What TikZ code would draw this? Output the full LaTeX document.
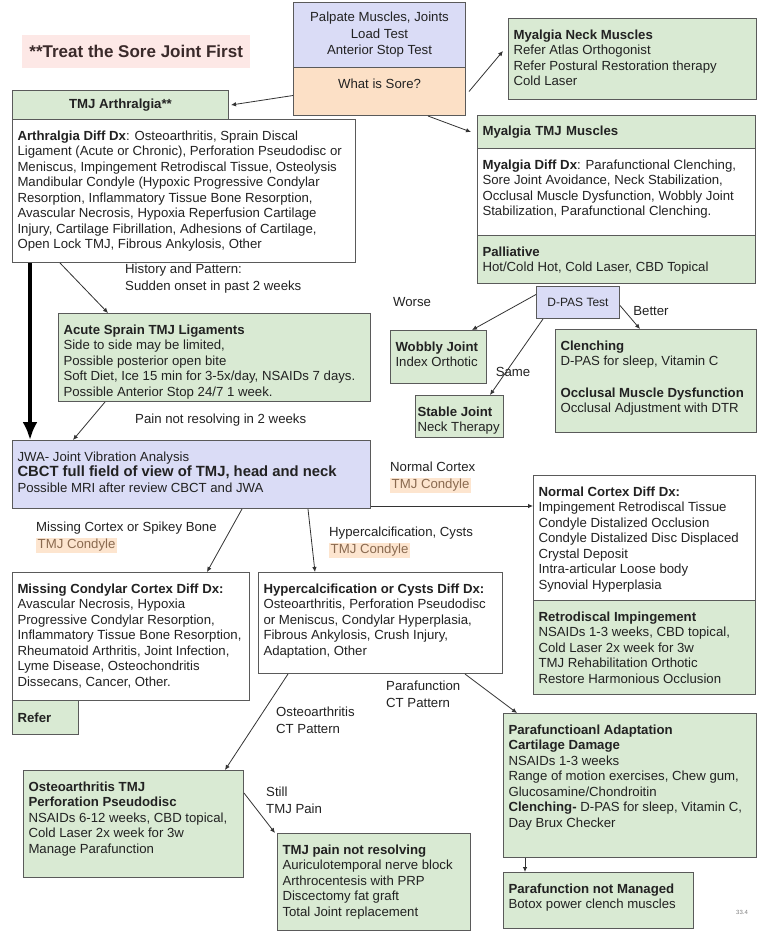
\documentclass[tikz,border=0pt]{standalone}
\usepackage{fontspec}
\setmainfont{Liberation Sans}
\usetikzlibrary{arrows.meta}

\definecolor{greenc}{HTML}{D9EAD3}
\definecolor{bluec}{HTML}{DADCF6}
\definecolor{orangec}{HTML}{FCE0C6}
\definecolor{pinkc}{HTML}{FDE8E6}
\definecolor{condbg}{HTML}{FDE5CF}
\definecolor{edgec}{HTML}{5A5A5A}
\definecolor{arrowc}{HTML}{333333}
\definecolor{textc}{HTML}{222222}
\definecolor{treatc}{HTML}{3A2A2A}
\definecolor{condc}{HTML}{8A6A50}

\newcommand{\boxfont}{\fontsize{13.2}{15.5}\selectfont}
\newcommand{\lblfont}{\fontsize{13.2}{17}\selectfont}
% text block filling a box of outer size #1 x #2, set from the top
\newcommand{\boxtxt}[3]{\parbox[t][\dimexpr#2-20pt\relax][t]{\dimexpr#1-10pt\relax}{\raggedright\strut#3}}
\newcommand{\condyle}{{\setlength{\fboxsep}{1.5pt}\colorbox{condbg}{\color{condc}TMJ Condyle}}}

\begin{document}
\begin{tikzpicture}[
  x=1pt, y=-1pt,
  box/.style={draw=edgec, line width=1pt, anchor=north west,
    inner xsep=5pt, inner ysep=10pt, font=\boxfont, text=textc},
  gbox/.style={box, fill=greenc},
  wbox/.style={box, fill=white},
  bbox/.style={box, fill=bluec},
  obox/.style={box, fill=orangec},
  lbl/.style={anchor=north west, align=left, font=\lblfont, text=textc, inner sep=0pt},
  line/.style={-{Latex[length=5pt,width=4.5pt]}, line width=0.8pt, draw=arrowc},
  bigline/.style={-{Latex[length=18pt,width=15pt]}, line width=3.5pt, draw=black}
]
\useasboundingbox[fill=white] (0,0) rectangle (761,932);

% Examination
\node[bbox, minimum width=172pt, minimum height=65pt, inner ysep=4pt, align=center,
  font=\fontsize{13.2}{16.5}\selectfont] (exam) at (293,2)
  {Palpate Muscles, Joints\\Load Test\\Anterior Stop Test};
\node[obox] (sore) at (293,67) {\boxtxt{172pt}{48pt}{\centering What is Sore?}};

\node[anchor=north west, fill=pinkc, text=treatc, minimum width=228pt,
  minimum height=33pt, font=\fontsize{17}{19}\selectfont\bfseries] (treat) at (22,35)
  {**Treat the Sore Joint First};

% Joint (arthralgia) side
\node[gbox, minimum width=216pt, minimum height=29pt, inner ysep=2pt, font=\boxfont\bfseries] (arthhead) at (12,90) {TMJ Arthralgia**};
\node[wbox] (arthbody) at (12,119) {\boxtxt{343pt}{143pt}{%
  \textbf{Arthralgia Diff Dx}: Osteoarthritis, Sprain Discal\\
  Ligament (Acute or Chronic), Perforation Pseudodisc or\\
  Meniscus, Impingement Retrodiscal Tissue, Osteolysis\\
  Mandibular Condyle (Hypoxic Progressive Condylar\\
  Resorption, Inflammatory Tissue Bone Resorption,\\
  Avascular Necrosis, Hypoxia Reperfusion Cartilage\\
  Injury, Cartilage Fibrillation, Adhesions of Cartilage,\\
  Open Lock TMJ, Fibrous Ankylosis, Other}};

\node[gbox] (sprain) at (58,313) {\boxtxt{312pt}{88pt}{%
  \textbf{Acute Sprain TMJ Ligaments}\\
  Side to side may be limited,\\
  Possible posterior open bite\\
  Soft Diet, Ice 15 min for 3-5x/day, NSAIDs 7 days.\\
  Possible Anterior Stop 24/7 1 week.}};

% Muscle (myalgia) side
\node[gbox] (neck) at (508,18) {\boxtxt{248pt}{81pt}{%
  \textbf{Myalgia Neck Muscles}\\
  Refer Atlas Orthogonist\\
  Refer Postural Restoration therapy\\
  Cold Laser}};
\node[gbox, text width=268pt, minimum height=33pt, inner ysep=2pt, align=left, font=\boxfont\bfseries] (myahead) at (477,115) {Myalgia TMJ Muscles};
\node[wbox] (myabody) at (477,148) {\boxtxt{278pt}{87pt}{%
  \textbf{Myalgia Diff Dx}: Parafunctional Clenching,\\
  Sore Joint Avoidance, Neck Stabilization,\\
  Occlusal Muscle Dysfunction, Wobbly Joint\\
  Stabilization, Parafunctional Clenching.}};
\node[gbox] (palli) at (477,235) {\boxtxt{278pt}{48pt}{%
  \textbf{Palliative}\\
  Hot/Cold Hot, Cold Laser, CBD Topical}};

\node[bbox, minimum width=83pt, minimum height=32pt, inner ysep=2pt, font=\fontsize{12}{14}\selectfont] (dpas) at (536,286) {D-PAS Test};
\node[gbox] (wobbly) at (390,330) {\boxtxt{96pt}{53pt}{%
  \textbf{Wobbly Joint}\\Index Orthotic}};
\node[gbox, inner xsep=2pt] (stable) at (415,395) {\boxtxt{94pt}{42pt}{%
  \textbf{Stable Joint}\\Neck Therapy}};
\node[gbox] (clench) at (555,329) {\boxtxt{201pt}{103pt}{%
  \textbf{Clenching}\\
  D-PAS for sleep, Vitamin C\\[16pt]
  \textbf{Occlusal Muscle Dysfunction}\\
  Occlusal Adjustment with DTR}};

% Imaging
\node[bbox] (jwa) at (12,440) {\boxtxt{358pt}{68pt}{%
  JWA- Joint Vibration Analysis\\
  {\fontsize{14.8}{16}\selectfont\bfseries CBCT full field of view of TMJ, head and neck}\\
  Possible MRI after review CBCT and JWA}};

\node[wbox] (normal) at (533,475) {\boxtxt{222pt}{125pt}{%
  \textbf{Normal Cortex Diff Dx:}\\
  Impingement Retrodiscal Tissue\\
  Condyle Distalized Occlusion\\
  Condyle Distalized Disc Displaced\\
  Crystal Deposit\\
  Intra-articular Loose body\\
  Synovial Hyperplasia}};
\node[gbox] (retro) at (533,600) {\boxtxt{222pt}{94pt}{%
  \textbf{Retrodiscal Impingement}\\
  NSAIDs 1-3 weeks, CBD topical,\\
  Cold Laser 2x week for 3w\\
  TMJ Rehabilitation Orthotic\\
  Restore Harmonious Occlusion}};

\node[wbox] (missing) at (12,572) {\boxtxt{237pt}{128pt}{%
  \textbf{Missing Condylar Cortex Diff Dx:}\\
  Avascular Necrosis, Hypoxia\\
  Progressive Condylar Resorption,\\
  Inflammatory Tissue Bone Resorption,\\
  Rheumatoid Arthritis, Joint Infection,\\
  Lyme Disease, Osteochondritis\\
  Dissecans, Cancer, Other.}};
\node[gbox, text width=56pt, minimum height=34pt, inner ysep=2pt, align=left, font=\boxfont\bfseries] (refer) at (12,700) {Refer};

\node[wbox] (hyper) at (258,572) {\boxtxt{244pt}{101pt}{%
  \textbf{Hypercalcification or Cysts Diff Dx:}\\
  Osteoarthritis, Perforation Pseudodisc\\
  or Meniscus, Condylar Hyperplasia,\\
  Fibrous Ankylosis, Crush Injury,\\
  Adaptation, Other}};

% Treatment
\node[gbox] (osteo) at (23,770) {\boxtxt{220pt}{107pt}{%
  \textbf{Osteoarthritis TMJ}\\
  \textbf{Perforation Pseudodisc}\\
  NSAIDs 6-12 weeks, CBD topical,\\
  Cold Laser 2x week for 3w\\
  Manage Parafunction}};
\node[gbox] (pain) at (277,833) {\boxtxt{193pt}{97pt}{%
  \textbf{TMJ pain not resolving}\\
  Auriculotemporal nerve block\\
  Arthrocentesis with PRP\\
  Discectomy fat graft\\
  Total Joint replacement}};
\node[gbox] (adapt) at (503,713) {\boxtxt{253pt}{144pt}{%
  \textbf{Parafunctioanl Adaptation}\\
  \textbf{Cartilage Damage}\\
  NSAIDs 1-3 weeks\\
  Range of motion exercises, Chew gum,\\
  Glucosamine/Chondroitin\\
  \textbf{Clenching-} D-PAS for sleep, Vitamin C,\\
  Day Brux Checker}};
\node[gbox] (notman) at (503,872) {\boxtxt{190pt}{56pt}{%
  \textbf{Parafunction not Managed}\\
  Botox power clench muscles}};

% Connector labels
\node[lbl] (histlbl) at (125,264) {History and Pattern:\\Sudden onset in past 2 weeks};
\node[lbl, anchor=west] (resolvelbl) at (135,420) {Pain not resolving in 2 weeks};
\node[lbl, anchor=center] (worselbl) at (412,302) {Worse};
\node[lbl, anchor=center] (betterlbl) at (651,311) {Better};
\node[lbl, anchor=center] (samelbl) at (513,372) {Same};
\node[lbl] (normallbl) at (390,462) {Normal Cortex\\\condyle};
\node[lbl] (missinglbl) at (36,522) {Missing Cortex or Spikey Bone\\\condyle};
\node[lbl] (hyperlbl) at (329,527) {Hypercalcification, Cysts\\\condyle};
\node[lbl] (paralbl) at (386,681) {Parafunction\\CT Pattern};
\node[lbl] (osteolbl) at (276,707) {Osteoarthritis\\CT Pattern};
\node[lbl] (stilllbl) at (266,787) {Still\\TMJ Pain};
\node[lbl, font=\fontsize{6}{7}\selectfont, text=gray] (pagelbl) at (736,910) {33.4};

% Connectors
\draw[line] ([yshift=-4pt]sore.west) -- ([xshift=2pt]arthhead.east);
\draw[line] ([xshift=3pt]sore.east) -- ([xshift=-5pt,yshift=8pt]neck.west);
\draw[line] ([xshift=-38pt]sore.south east) -- ([xshift=-6pt]myahead.west);
\draw[line] ([xshift=48pt]arthbody.south west) -- ([xshift=50pt]sprain.north west);
\draw[line] ([xshift=47pt]sprain.south west) -- ([xshift=61pt]jwa.north west);
\draw[bigline] ([xshift=18pt]arthbody.south west) -- ([xshift=18pt]jwa.north west);

\draw[line] ([yshift=8pt]dpas.west) -- ([xshift=82pt]wobbly.north west);
\draw[line] ([xshift=7pt]dpas.south west) -- ([xshift=75pt]stable.north west);
\draw[line] ([yshift=-3pt]dpas.east) -- ([xshift=85pt]clench.north west);

\coordinate (nc) at ([yshift=3pt]jwa.south east);
\draw[line] (nc) -- (nc -| normal.west);
\draw[line] ([xshift=230pt]jwa.south west) -- ([xshift=195pt]missing.north west);
\draw[line] ([xshift=296pt]jwa.south west) -- ([xshift=57pt]hyper.north west);
\draw[line] ([xshift=30pt]hyper.south west) -- ([xshift=202pt]osteo.north west);
\draw[line] ([xshift=207pt]hyper.south west) -- ([xshift=14pt]adapt.north west);
\draw[line] ([yshift=-23pt]osteo.north east) -- ([xshift=-2pt]pain.north west);
\draw[line] ([xshift=22pt]adapt.south west) -- ([xshift=22pt]notman.north west);

\end{tikzpicture}
\end{document}
